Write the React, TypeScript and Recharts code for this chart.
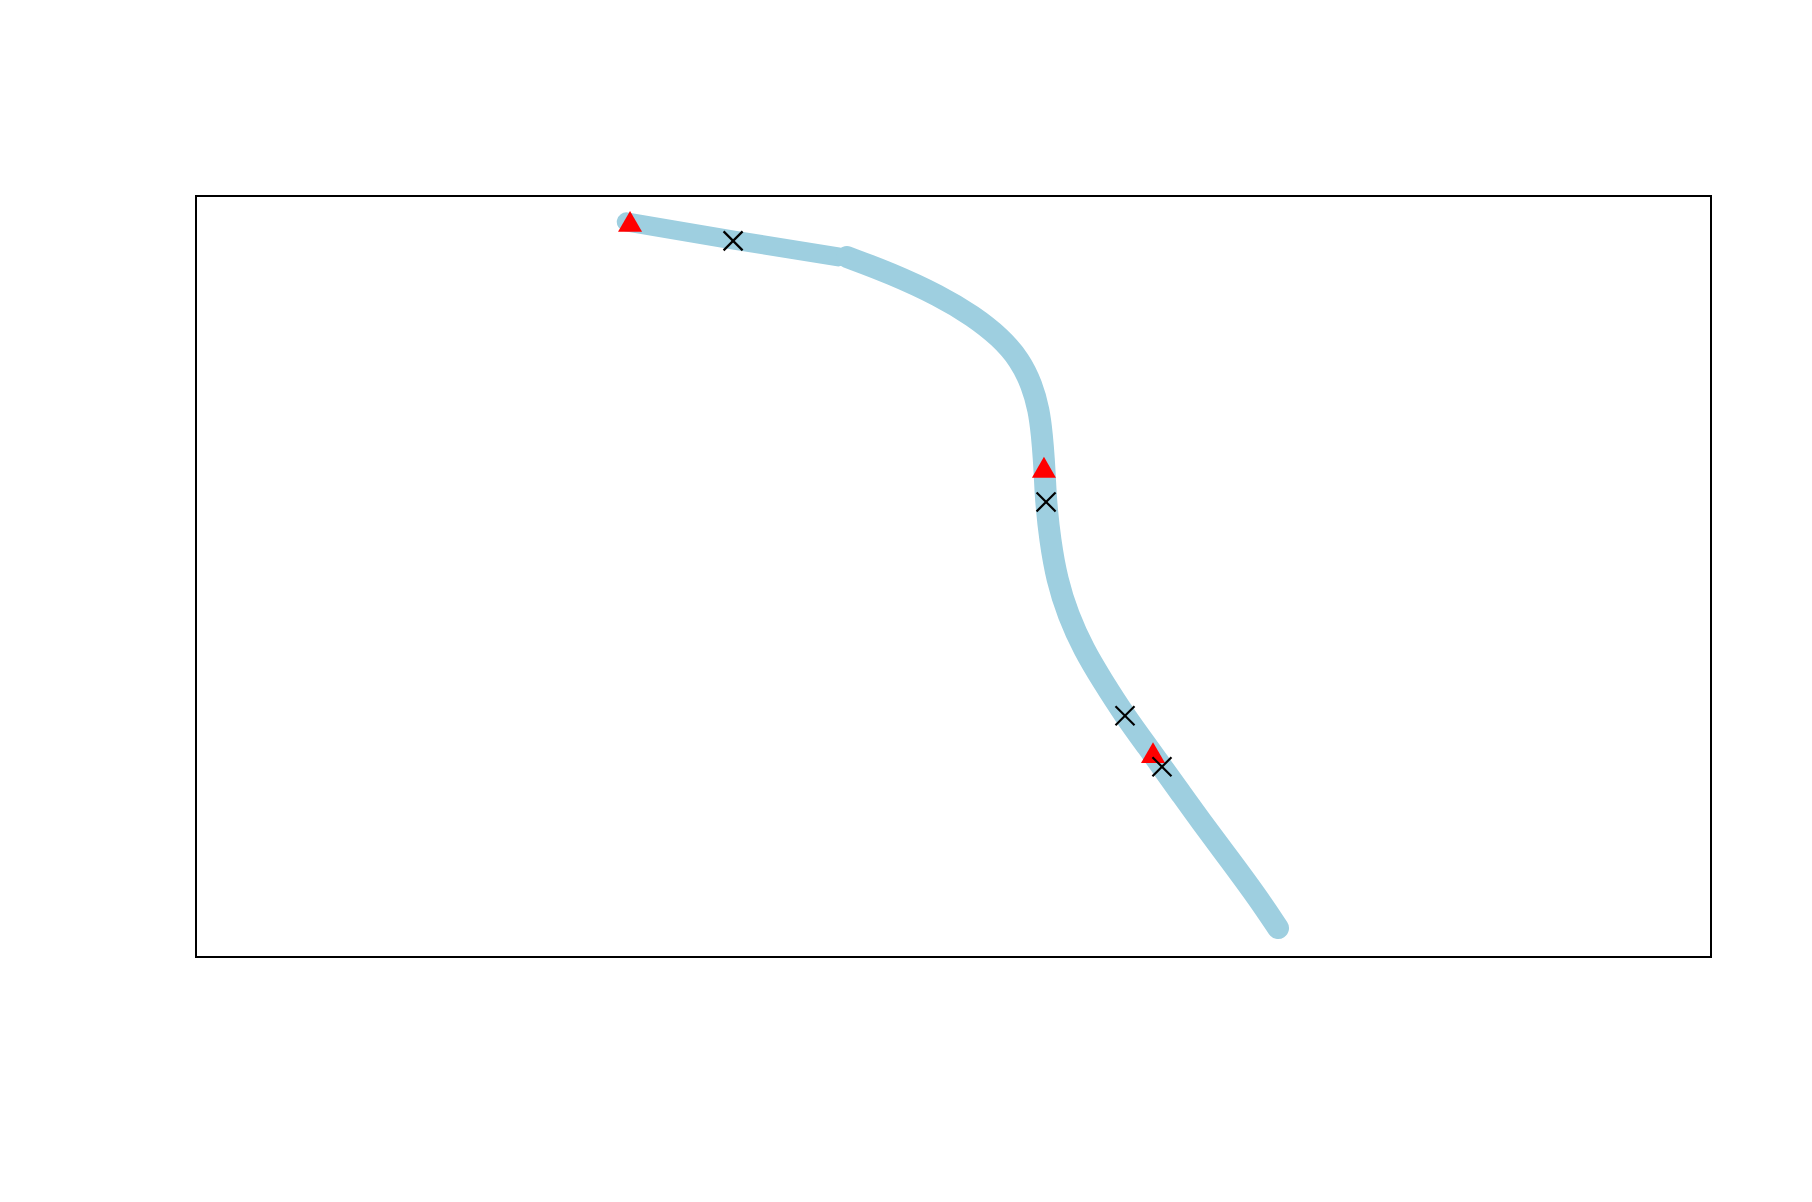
import { ComposedChart, Line, ReferenceArea, Scatter, XAxis, YAxis } from "recharts"

// first stretch of the path (drawn as a chain of dots in the original)
const startX = [28.4, 35.5, 42.4]
const startY = [96.6, 94.2, 92.0]

// main smooth stretch
const pathX = [42.97, 45.81, 49.11, 51.29, 53.07, 54.39, 55.18, 55.64, 55.84, 55.97, 56.04, 56.11, 56.37, 56.83, 57.56, 58.61, 59.8, 61.32, 62.97, 63.76, 64.95, 66.27, 68.25, 70.1, 71.42]
const pathY = [91.98, 89.88, 86.86, 84.23, 81.47, 78.45, 75.16, 71.88, 68.59, 65.31, 62.68, 59.79, 54.8, 49.54, 44.94, 40.34, 36.4, 31.67, 27.2, 24.97, 21.68, 18.0, 12.75, 7.75, 3.81]

// red triangle markers
const triX = [28.65, 55.97, 63.17]
const triY = [96.2, 63.9, 26.4]

// black cross markers
const crossX = [35.45, 56.11, 61.32, 63.76]
const crossY = [94.1, 59.8, 31.7, 25.0]

const zip = (xs: number[], ys: number[]) => xs.map((x, i) => ({ x, y: ys[i] }))

const startData = zip(startX, startY)
const pathData = zip(pathX, pathY)
const triData = zip(triX, triY)
const crossData = zip(crossX, crossY)

const Triangle = (props: any) => {
  const { cx, cy } = props
  const r = 6.93
  const s = Math.sqrt(3) * r
  return <polygon points={`${cx},${cy - 2 * r} ${cx - s},${cy + r} ${cx + s},${cy + r}`} fill="#ff0000" />
}

const Cross = (props: any) => {
  const { cx, cy } = props
  const h = 9.5
  return (
    <g stroke="#000" strokeWidth={2.2}>
      <line x1={cx - h} y1={cy - h} x2={cx + h} y2={cy + h} />
      <line x1={cx - h} y1={cy + h} x2={cx + h} y2={cy - h} />
    </g>
  )
}

export default function App() {
  return (
    <ComposedChart width={1796} height={1186} margin={{ top: 188, left: 188, right: 93, bottom: 237 }}>
      <XAxis type="number" dataKey="x" domain={[0, 100]} hide />
      <YAxis type="number" dataKey="y" domain={[0, 100]} hide />
      <ReferenceArea x1={0} x2={100} y1={0} y2={100} fill="none" stroke="#000" strokeWidth={2} />
      <Line
        data={startData}
        dataKey="y"
        type="linear"
        stroke="#9ecfe0"
        strokeWidth={19}
        strokeLinecap="round"
        dot={false}
        activeDot={false}
        isAnimationActive={false}
      />
      <Line
        data={pathData}
        dataKey="y"
        type="basis"
        stroke="#9ecfe0"
        strokeWidth={22}
        strokeLinecap="round"
        strokeLinejoin="round"
        dot={false}
        activeDot={false}
        isAnimationActive={false}
      />
      <Scatter data={triData} dataKey="y" shape={Triangle} isAnimationActive={false} />
      <Scatter data={crossData} dataKey="y" shape={Cross} isAnimationActive={false} />
    </ComposedChart>
  )
}
